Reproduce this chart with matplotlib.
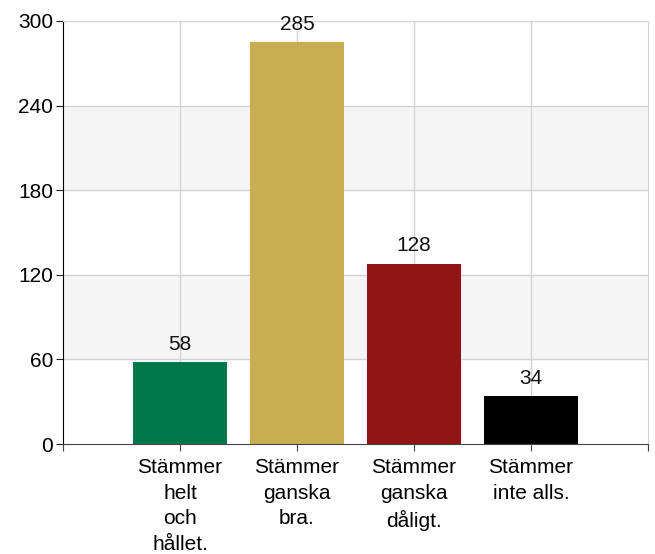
import matplotlib
matplotlib.use('Agg')
import matplotlib.pyplot as plt
import numpy as np

categories = ["Stämmer\nhelt\noch\nhållet.", "Stämmer\nganska\nbra.",
              "Stämmer\nganska\ndåligt.", "Stämmer\ninte alls."]
values = [58, 285, 128, 34]
colors = ["#00774a", "#c9ad53", "#8f1614", "#000000"]
yticks = [0, 60, 120, 180, 240, 300]

plt.rcParams['font.family'] = ['Liberation Sans', 'DejaVu Sans']
FS = 15

fig = plt.figure(figsize=(6.55, 5.54), dpi=100)
ax = fig.add_axes([63/655, 110/554, 585/655, 423/554])

x = np.arange(len(values))

# alternating bands
for lo in (60, 180):
    ax.axhspan(lo, lo + 60, color='#f5f5f5', zorder=0)
for yv in yticks[1:]:
    ax.axhline(yv, color='#d3d3d3', lw=1, zorder=1)
for xv in x:
    ax.axvline(xv, color='#d3d3d3', lw=1, zorder=1)

ax.bar(x, values, width=0.8, color=colors, zorder=2)
for xi, v in zip(x, values):
    ax.annotate(str(v), (xi, v), xytext=(0, 6), textcoords='offset points',
                ha='center', va='bottom', fontsize=FS, color='#111111')

ax.set_xlim(-1, 4)
ax.set_ylim(0, 300)
ax.set_yticks(yticks)
ax.set_yticklabels([str(t) for t in yticks], fontsize=FS)
ax.set_xticks([-1, 0, 1, 2, 3, 4])
ax.set_xticklabels([""] + categories + [""], fontsize=FS, linespacing=1.45)
ax.tick_params(axis='x', length=5, color='#444444', pad=5)
ax.tick_params(axis='y', length=5, color='#222222', pad=2)

ax.spines['left'].set_color('#000000')
ax.spines['bottom'].set_color('#444444')
ax.spines['top'].set_color('#d3d3d3')
ax.spines['right'].set_color('#d3d3d3')

fig.savefig('out.png', dpi=100)
